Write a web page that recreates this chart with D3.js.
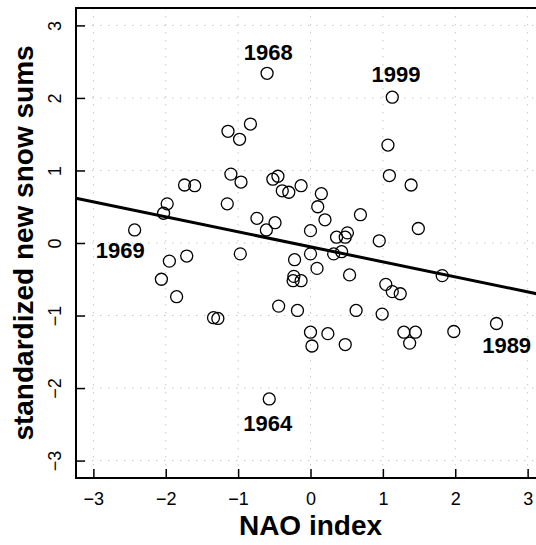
<!DOCTYPE html>
<html>
<head>
<meta charset="utf-8">
<script src="https://cdn.jsdelivr.net/npm/d3@7"></script>
<style>
  html, body { margin: 0; padding: 0; background: #fff; }
  svg { display: block; }
</style>
</head>
<body>
<svg id="chart" width="536" height="545"></svg>
<script>
// NAO index (x) and standardized new snow sums (y)
const naoIndex = [
  -2.43, -2.03, -1.98, -1.74, -1.60, -1.14, -0.98, -0.83, -1.10, -0.96,
  -1.15, -0.74, -0.61, -0.52, -0.45, -0.60, -1.95, -1.71, -0.97, -2.06,
  -1.85, -1.34, -1.28, -0.57, 1.13, 1.07, 1.09, 1.39, 1.49, 0.95,
  0.69, -0.39, -0.30, -0.13, 0.15, 0.10, 0.20, -0.49, 0.00, 0.36,
  0.51, 0.48, 0.32, 0.43, 0.00, -0.22, 0.09, 0.54, -0.23, -0.24,
  -0.13, 1.82, 1.04, 1.13, 1.24, -0.44, -0.18, 0.63, 0.99, 0.00,
  0.24, 0.48, 0.02, 1.29, 1.45, 1.37, 1.98, 2.57
];
const snowSums = [
  0.18, 0.41, 0.54, 0.80, 0.79, 1.54, 1.43, 1.64, 0.95, 0.84,
  0.54, 0.34, 0.18, 0.88, 0.92, 2.34, -0.25, -0.18, -0.15, -0.50,
  -0.74, -1.03, -1.04, -2.15, 2.01, 1.35, 0.93, 0.80, 0.20, 0.03,
  0.39, 0.72, 0.70, 0.79, 0.68, 0.50, 0.32, 0.28, 0.17, 0.08,
  0.14, 0.08, -0.15, -0.12, -0.15, -0.23, -0.35, -0.44, -0.46, -0.52,
  -0.52, -0.45, -0.57, -0.67, -0.70, -0.87, -0.93, -0.93, -0.98, -1.23,
  -1.25, -1.40, -1.42, -1.23, -1.23, -1.38, -1.22, -1.11
];

// annotated years and their label positions (data units)
const labelYears = ["1968", "1999", "1969", "1964", "1989"];
const labelX = [-0.585, 1.18, -2.63, -0.59, 2.71];
const labelY = [2.63, 2.32, -0.11, -2.49, -1.42];

// regression line
const fitIntercept = -0.053;
const fitSlope = -0.207;

const tickValues = [-3, -2, -1, 0, 1, 2, 3];
const xTitle = "NAO index";
const yTitle = "standardized new snow sums";

const svg = d3.select("#chart");
const mLeft = 76, mTop = 8, mBottom = 478, mRight = 545;
const x = d3.scaleLinear().domain([-3.24, 3.24]).range([mLeft, mRight]);
const y = d3.scaleLinear().domain([-3.24, 3.24]).range([mBottom, mTop]);

const font = "'Liberation Sans', Arial, Helvetica, sans-serif";
const fmt = d => (d < 0 ? "\u2212" + Math.abs(d) : String(d));

// grid
const grid = svg.append("g").attr("stroke", "#c8c8c8").attr("stroke-width", 1)
  .attr("stroke-dasharray", "1.5,6.5");
grid.selectAll("line.v").data(tickValues).enter().append("line")
  .attr("x1", d => x(d)).attr("x2", d => x(d)).attr("y1", mTop).attr("y2", mBottom);
grid.selectAll("line.h").data(tickValues).enter().append("line")
  .attr("y1", d => y(d)).attr("y2", d => y(d)).attr("x1", mLeft).attr("x2", mRight);

// axes with inward ticks
const xAxis = d3.axisBottom(x).tickValues(tickValues).tickSize(-9).tickPadding(14).tickFormat(fmt);
const yAxis = d3.axisLeft(y).tickValues(tickValues).tickSize(-9).tickPadding(12).tickFormat(fmt);

const gx = svg.append("g").attr("transform", `translate(0,${mBottom})`).call(xAxis);
gx.select(".domain").remove();
gx.selectAll("line").attr("stroke", "#000").attr("stroke-width", 1.5);
gx.selectAll("text").attr("font-family", font).attr("font-size", 18).attr("fill", "#000");

const gy = svg.append("g").attr("transform", `translate(${mLeft},0)`).call(yAxis);
gy.select(".domain").remove();
gy.selectAll("line").attr("stroke", "#000").attr("stroke-width", 1.5);
gy.selectAll("text")
  .attr("font-family", font).attr("font-size", 18).attr("fill", "#000")
  .attr("text-anchor", "middle").attr("dy", null).attr("x", null)
  .attr("transform", d => `translate(-21,0) rotate(-90)`)
  .attr("dominant-baseline", "central");

// box
svg.append("rect").attr("x", mLeft).attr("y", mTop)
  .attr("width", mRight - mLeft).attr("height", mBottom - mTop)
  .attr("fill", "none").attr("stroke", "#000").attr("stroke-width", 2);

// regression line
svg.append("line")
  .attr("x1", x(-3.24)).attr("y1", y(fitIntercept + fitSlope * -3.24))
  .attr("x2", x(3.24)).attr("y2", y(fitIntercept + fitSlope * 3.24))
  .attr("stroke", "#000").attr("stroke-width", 3);

// points
const pts = naoIndex.map((v, i) => ({ x: v, y: snowSums[i] }));
svg.append("g").selectAll("circle").data(pts).enter().append("circle")
  .attr("cx", d => x(d.x)).attr("cy", d => y(d.y)).attr("r", 6)
  .attr("fill", "none").attr("stroke", "#000").attr("stroke-width", 1.3);

// year labels
svg.append("g").selectAll("text").data(labelYears).enter().append("text")
  .attr("x", (d, i) => x(labelX[i])).attr("y", (d, i) => y(labelY[i]))
  .attr("text-anchor", "middle").attr("dominant-baseline", "central")
  .attr("font-family", font).attr("font-weight", "bold").attr("font-size", 22)
  .text(d => d);

// axis titles
svg.append("text").attr("x", x(0)).attr("y", 535)
  .attr("text-anchor", "middle").attr("font-family", font)
  .attr("font-weight", "bold").attr("font-size", 28).text(xTitle);
svg.append("text").attr("transform", `translate(33,${y(0)}) rotate(-90)`)
  .attr("text-anchor", "middle").attr("font-family", font)
  .attr("font-weight", "bold").attr("font-size", 28).text(yTitle);
</script>
</body>
</html>
